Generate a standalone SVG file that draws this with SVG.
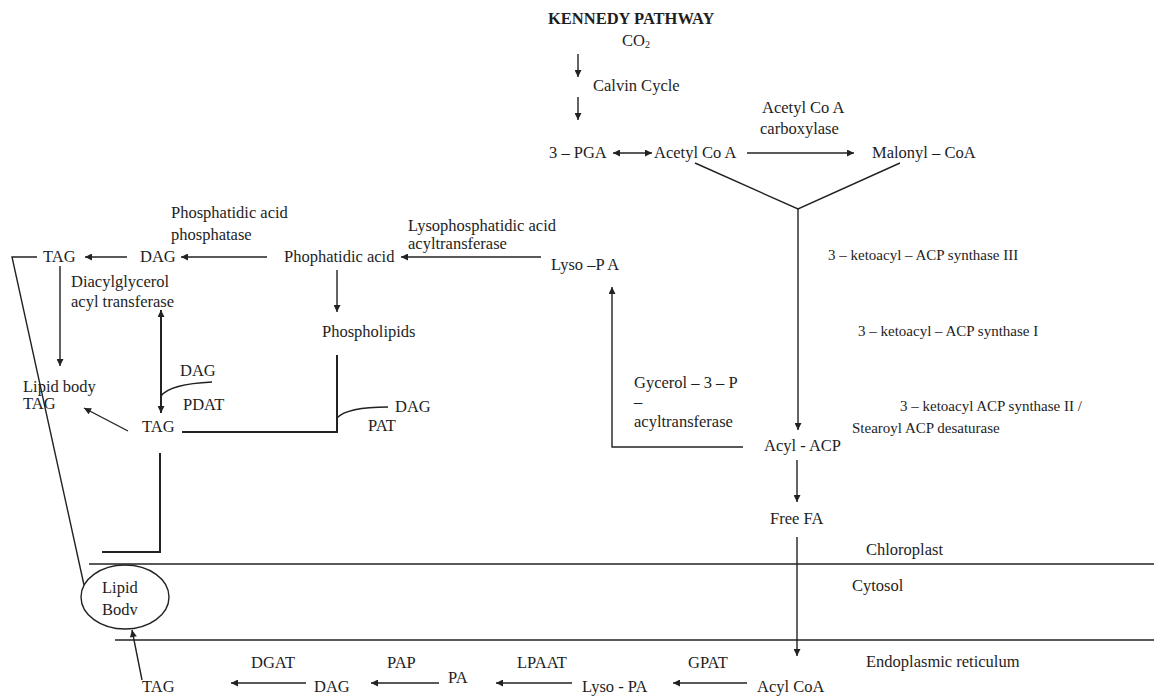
<svg xmlns="http://www.w3.org/2000/svg" width="1154" height="696" viewBox="0 0 1154 696">
<defs>
<style>
text{font-family:"Liberation Serif","Times New Roman",serif;font-size:16.5px;fill:#1e1e1e}
.b{font-weight:bold}
.s{font-size:15px}
.ln{fill:none;stroke:#222;stroke-width:1.4}
.th{stroke-width:2}
</style>
<marker id="ah" viewBox="0 0 10 10" refX="10" refY="5" markerWidth="8" markerHeight="7" markerUnits="userSpaceOnUse" orient="auto-start-reverse"><path d="M0,0 L10,5 L0,10 z" fill="#222"/></marker>
</defs>
<rect width="1154" height="696" fill="#fff"/>

<g id="connectors">
<line class="ln" x1="578" y1="54" x2="578" y2="77" marker-end="url(#ah)"/>
<line class="ln" x1="578" y1="97" x2="578" y2="120" marker-end="url(#ah)"/>
<line class="ln" x1="613" y1="153" x2="652" y2="153" marker-start="url(#ah)" marker-end="url(#ah)"/>
<line class="ln" x1="747" y1="153" x2="854" y2="153" marker-end="url(#ah)"/>
<polyline class="ln" points="695,163 798,209 900,163"/>
<line class="ln" x1="798" y1="209" x2="798" y2="430" marker-end="url(#ah)"/>
<polyline class="ln" points="743,447 612,447 612,287" marker-end="url(#ah)"/>
<line class="ln" x1="797" y1="460" x2="797" y2="502" marker-end="url(#ah)"/>
<line class="ln" x1="797" y1="537" x2="797" y2="656" marker-end="url(#ah)"/>
<line class="ln" x1="541" y1="257" x2="401" y2="257" marker-end="url(#ah)"/>
<line class="ln" x1="267" y1="257" x2="181" y2="257" marker-end="url(#ah)"/>
<line class="ln" x1="127" y1="257" x2="85" y2="257" marker-end="url(#ah)"/>
<line class="ln" x1="337" y1="270" x2="337" y2="312" marker-end="url(#ah)"/>
<polyline class="ln th" points="182,432 337,432 337,355"/>
<path class="ln" d="M388,407 Q347,407 337,418"/>
<line class="ln" x1="60" y1="266" x2="60" y2="366" marker-end="url(#ah)"/>
<line class="ln th" x1="161" y1="310" x2="161" y2="413" marker-start="url(#ah)" marker-end="url(#ah)"/>
<path class="ln" d="M212,382 Q170,384 161,396"/>
<line class="ln" x1="128" y1="431" x2="84" y2="408" marker-end="url(#ah)"/>
<polyline class="ln th" points="160,453 160,552 102,552"/>
<polyline class="ln" points="37,257 12,257 84,585"/>
<line class="ln" x1="89" y1="564" x2="1154" y2="564"/>
<line class="ln" x1="115" y1="640" x2="1154" y2="640"/>
<line class="ln" x1="142" y1="680" x2="132" y2="630" marker-end="url(#ah)"/>
<line class="ln" x1="306" y1="683" x2="231" y2="683" marker-end="url(#ah)"/>
<line class="ln" x1="439" y1="683" x2="371" y2="683" marker-end="url(#ah)"/>
<line class="ln" x1="572" y1="683" x2="496" y2="683" marker-end="url(#ah)"/>
<line class="ln" x1="747" y1="683" x2="673" y2="683" marker-end="url(#ah)"/>
</g>

<g id="title"><text class="b" x="548" y="24">KENNEDY PATHWAY</text></g>
<g id="co2"><text x="622" y="46">CO<tspan font-size="10" dy="2">2</tspan></text></g>
<g id="calvin"><text x="593" y="91">Calvin Cycle</text></g>
<g id="pga"><text x="549" y="158">3 – PGA</text></g>
<g id="acetylcoa"><text x="654" y="158">Acetyl Co A</text></g>
<g id="acc"><text x="762" y="113">Acetyl Co A</text><text x="760" y="134">carboxylase</text></g>
<g id="malonyl"><text x="872" y="158">Malonyl – CoA</text></g>
<g id="kas3"><text class="s" x="828" y="260">3 – ketoacyl – ACP synthase III</text></g>
<g id="kas1"><text class="s" x="858" y="336">3 – ketoacyl – ACP synthase I</text></g>
<g id="kas2"><text class="s" x="900" y="411">3 – ketoacyl ACP synthase II /</text><text class="s" x="852" y="433">Stearoyl ACP desaturase</text></g>
<g id="acylacp"><text x="764" y="451">Acyl - ACP</text></g>
<g id="freefa"><text x="770" y="524">Free FA</text></g>
<g id="gpat1"><text x="634" y="388">Gycerol – 3 – P</text><text x="634" y="407">–</text><text x="634" y="427">acyltransferase</text></g>
<g id="lysopa1"><text x="551" y="270">Lyso –P A</text></g>
<g id="lpaat1"><text x="408" y="231">Lysophosphatidic acid</text><text x="408" y="249">acyltransferase</text></g>
<g id="pa1"><text x="284" y="262">Phophatidic acid</text></g>
<g id="pap1"><text x="171" y="218">Phosphatidic acid</text><text x="171" y="240">phosphatase</text></g>
<g id="dag1"><text x="140" y="262">DAG</text></g>
<g id="tag1"><text x="43" y="262">TAG</text></g>
<g id="dgat1"><text x="71" y="287">Diacylglycerol</text><text x="71" y="307">acyl transferase</text></g>
<g id="phospholipids"><text x="322" y="337">Phospholipids</text></g>
<g id="lipidbodytag"><text x="23" y="392">Lipid body</text><text x="23" y="409">TAG</text></g>
<g id="dag2"><text x="180" y="376">DAG</text></g>
<g id="pdat"><text x="183" y="410">PDAT</text></g>
<g id="tag2"><text x="142" y="432">TAG</text></g>
<g id="dag3"><text x="395" y="412">DAG</text></g>
<g id="pat"><text x="368" y="431">PAT</text></g>
<g id="chloroplast"><text x="866" y="555">Chloroplast</text></g>
<g id="cytosol"><text x="852" y="591">Cytosol</text></g>
<g id="er"><text x="866" y="667">Endoplasmic reticulum</text></g>
<g id="lipidbody"><ellipse class="ln" cx="125" cy="597" rx="44" ry="32"/><text x="102" y="593">Lipid</text><text x="102" y="615">Bodv</text></g>
<g id="tag3"><text x="142" y="692">TAG</text></g>
<g id="dgat2"><text x="251" y="668">DGAT</text></g>
<g id="dag4"><text x="314" y="692">DAG</text></g>
<g id="pap2"><text x="387" y="668">PAP</text></g>
<g id="pa2"><text x="448" y="683">PA</text></g>
<g id="lpaat2"><text x="517" y="668">LPAAT</text></g>
<g id="lysopa2"><text x="582" y="692">Lyso - PA</text></g>
<g id="gpat2"><text x="688" y="668">GPAT</text></g>
<g id="acylcoa"><text x="757" y="692">Acyl CoA</text></g>
</svg>
